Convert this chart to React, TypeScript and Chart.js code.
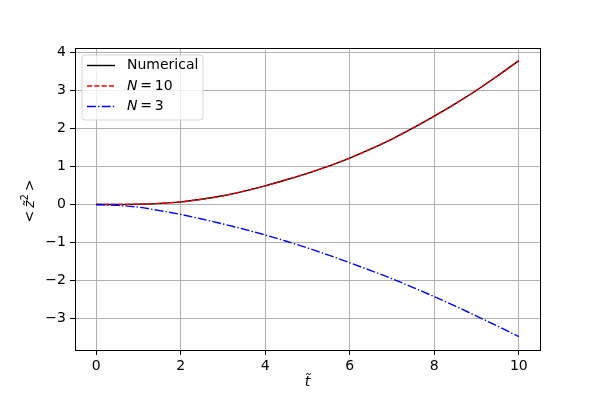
import React, { useEffect, useRef } from "react";
import { Chart, registerables } from "chart.js";

Chart.register(...registerables);

const tValues = [0, 0.5, 1, 1.5, 2, 2.5, 3, 3.5, 4, 4.5, 5, 5.5, 6, 6.5, 7, 7.5, 8, 8.5, 9, 9.5, 10];
const numerical = [0, 0.002, 0.01, 0.03, 0.07, 0.14, 0.23, 0.35, 0.49, 0.65, 0.82, 1.01, 1.22, 1.46, 1.72, 2.01, 2.32, 2.65, 3.0, 3.38, 3.78];
const nTen = [0, 0.002, 0.01, 0.03, 0.07, 0.14, 0.23, 0.35, 0.49, 0.65, 0.82, 1.01, 1.22, 1.46, 1.72, 2.01, 2.32, 2.65, 3.0, 3.38, 3.78];
const nThree = [0, -0.02, -0.07, -0.16, -0.26, -0.38, -0.51, -0.65, -0.8, -0.965, -1.14, -1.33, -1.53, -1.735, -1.95, -2.18, -2.42, -2.67, -2.93, -3.195, -3.47];
const seriesLabels = ["Numerical", "N = 10", "N = 3"];
const xTicks = [0, 2, 4, 6, 8, 10];
const yTicks = [-3, -2, -1, 0, 1, 2, 3, 4];

const FONT = "'DejaVu Sans', sans-serif";

function drawMathLabel(ctx: CanvasRenderingContext2D, label: string, x: number, y: number) {
  ctx.textBaseline = "middle";
  ctx.textAlign = "left";
  if (label.startsWith("N ")) {
    ctx.font = `italic 14px ${FONT}`;
    ctx.fillText("N", x, y);
    const w = ctx.measureText("N").width;
    ctx.font = `14px ${FONT}`;
    ctx.fillText(label.slice(1).replace(/ /g, "\u2009"), x + w, y);
  } else {
    ctx.font = `14px ${FONT}`;
    ctx.fillText(label, x, y);
  }
}

const decorPlugin = {
  id: "decor",
  afterDraw(chart: any) {
    const ctx: CanvasRenderingContext2D = chart.ctx;
    const a = chart.chartArea;
    ctx.save();
    // spines
    ctx.strokeStyle = "#000";
    ctx.lineWidth = 1;
    ctx.strokeRect(Math.round(a.left) + 0.5, Math.round(a.top) + 0.5, Math.round(a.right - a.left), Math.round(a.bottom - a.top));

    // legend
    const bx = 82, by = 55, bw = 121, bh = 65, r = 3;
    ctx.beginPath();
    ctx.moveTo(bx + r, by);
    ctx.lineTo(bx + bw - r, by);
    ctx.quadraticCurveTo(bx + bw, by, bx + bw, by + r);
    ctx.lineTo(bx + bw, by + bh - r);
    ctx.quadraticCurveTo(bx + bw, by + bh, bx + bw - r, by + bh);
    ctx.lineTo(bx + r, by + bh);
    ctx.quadraticCurveTo(bx, by + bh, bx, by + bh - r);
    ctx.lineTo(bx, by + r);
    ctx.quadraticCurveTo(bx, by, bx + r, by);
    ctx.closePath();
    ctx.fillStyle = "rgba(255,255,255,0.8)";
    ctx.fill();
    ctx.strokeStyle = "rgba(204,204,204,0.8)";
    ctx.lineWidth = 1;
    ctx.stroke();

    const rows = [65.5, 86, 106.5];
    chart.data.datasets.forEach((ds: any, i: number) => {
      const yy = rows[i];
      ctx.beginPath();
      ctx.setLineDash(ds.borderDash || []);
      ctx.strokeStyle = ds.borderColor;
      ctx.lineWidth = ds.borderWidth;
      ctx.moveTo(87, yy);
      ctx.lineTo(115, yy);
      ctx.stroke();
      ctx.setLineDash([]);
      ctx.fillStyle = "#000";
      drawMathLabel(ctx, ds.label, 127, yy);
    });

    // x title
    ctx.fillStyle = "#000";
    ctx.font = `italic 14px ${FONT}`;
    ctx.textAlign = "center";
    ctx.textBaseline = "middle";
    ctx.fillText("t\u0303", (a.left + a.right) / 2, 382);

    // y title
    ctx.translate(30, 201);
    ctx.rotate(-Math.PI / 2);
    const parts = [
      { t: "<\u2009", f: `14px ${FONT}`, dy: 0 },
      { t: "z\u0303", f: `italic 14px ${FONT}`, dy: 0 },
      { t: "2", f: `10px ${FONT}`, dy: -5 },
      { t: "\u2009>", f: `14px ${FONT}`, dy: 0 },
    ];
    let total = 0;
    parts.forEach((p) => {
      ctx.font = p.f;
      total += ctx.measureText(p.t).width;
    });
    let cx = -total / 2;
    ctx.textAlign = "left";
    parts.forEach((p) => {
      ctx.font = p.f;
      ctx.fillText(p.t, cx, p.dy);
      cx += ctx.measureText(p.t).width;
    });
    ctx.restore();
  },
};

const fmt = (v: any) => {
  const n = Number(v);
  return n < 0 ? "\u2212" + Math.abs(n) : String(n);
};

export default function App() {
  const ref = useRef<HTMLCanvasElement>(null);
  useEffect(() => {
    if (!ref.current) return;
    const mk = (arr: number[]) => tValues.map((t, i) => ({ x: t, y: arr[i] }));
    const chart = new Chart(ref.current, {
      type: "line",
      data: {
        datasets: [
          { label: seriesLabels[0], data: mk(numerical), borderColor: "#000000", borderWidth: 1.4, pointRadius: 0, cubicInterpolationMode: "monotone", order: 2 },
          { label: seriesLabels[1], data: mk(nTen), borderColor: "#ff0000", borderWidth: 1.4, borderDash: [5.1, 2.2], pointRadius: 0, cubicInterpolationMode: "monotone", order: 1 },
          { label: seriesLabels[2], data: mk(nThree), borderColor: "#0000ff", borderWidth: 1.4, borderDash: [8.9, 2.2, 1.4, 2.2], pointRadius: 0, cubicInterpolationMode: "monotone", order: 0 },
        ],
      } as any,
      options: {
        responsive: false,
        animation: false,
        devicePixelRatio: 1,
        layout: { padding: { top: 48, right: 60, left: 0, bottom: 0 } },
        plugins: { legend: { display: false }, tooltip: { enabled: false } },
        scales: {
          x: {
            type: "linear",
            min: -0.5,
            max: 10.5,
            afterBuildTicks: (s: any) => { s.ticks = xTicks.map((v) => ({ value: v })); },
            afterFit: (s: any) => { s.height = 50; },
            grid: { color: "#b0b0b0", lineWidth: 1, tickLength: 5, tickColor: "#000" },
            border: { color: "#000", width: 1 },
            ticks: { font: { family: FONT, size: 14 }, color: "#000", padding: 3, maxRotation: 0, callback: fmt },
          },
          y: {
            type: "linear",
            min: -3.82,
            max: 4.11,
            afterBuildTicks: (s: any) => { s.ticks = yTicks.map((v) => ({ value: v })); },
            afterFit: (s: any) => { s.width = 75; },
            grid: { color: "#b0b0b0", lineWidth: 1, tickLength: 5, tickColor: "#000" },
            border: { color: "#000", width: 1 },
            ticks: { font: { family: FONT, size: 14 }, color: "#000", padding: 4, callback: fmt },
          },
        },
      } as any,
      plugins: [decorPlugin],
    });
    return () => chart.destroy();
  }, []);
  return (
    <div style={{ position: "absolute", left: 0, top: 0, width: 600, height: 400, background: "#fff" }}>
      <canvas ref={ref} width={600} height={400} />
    </div>
  );
}
